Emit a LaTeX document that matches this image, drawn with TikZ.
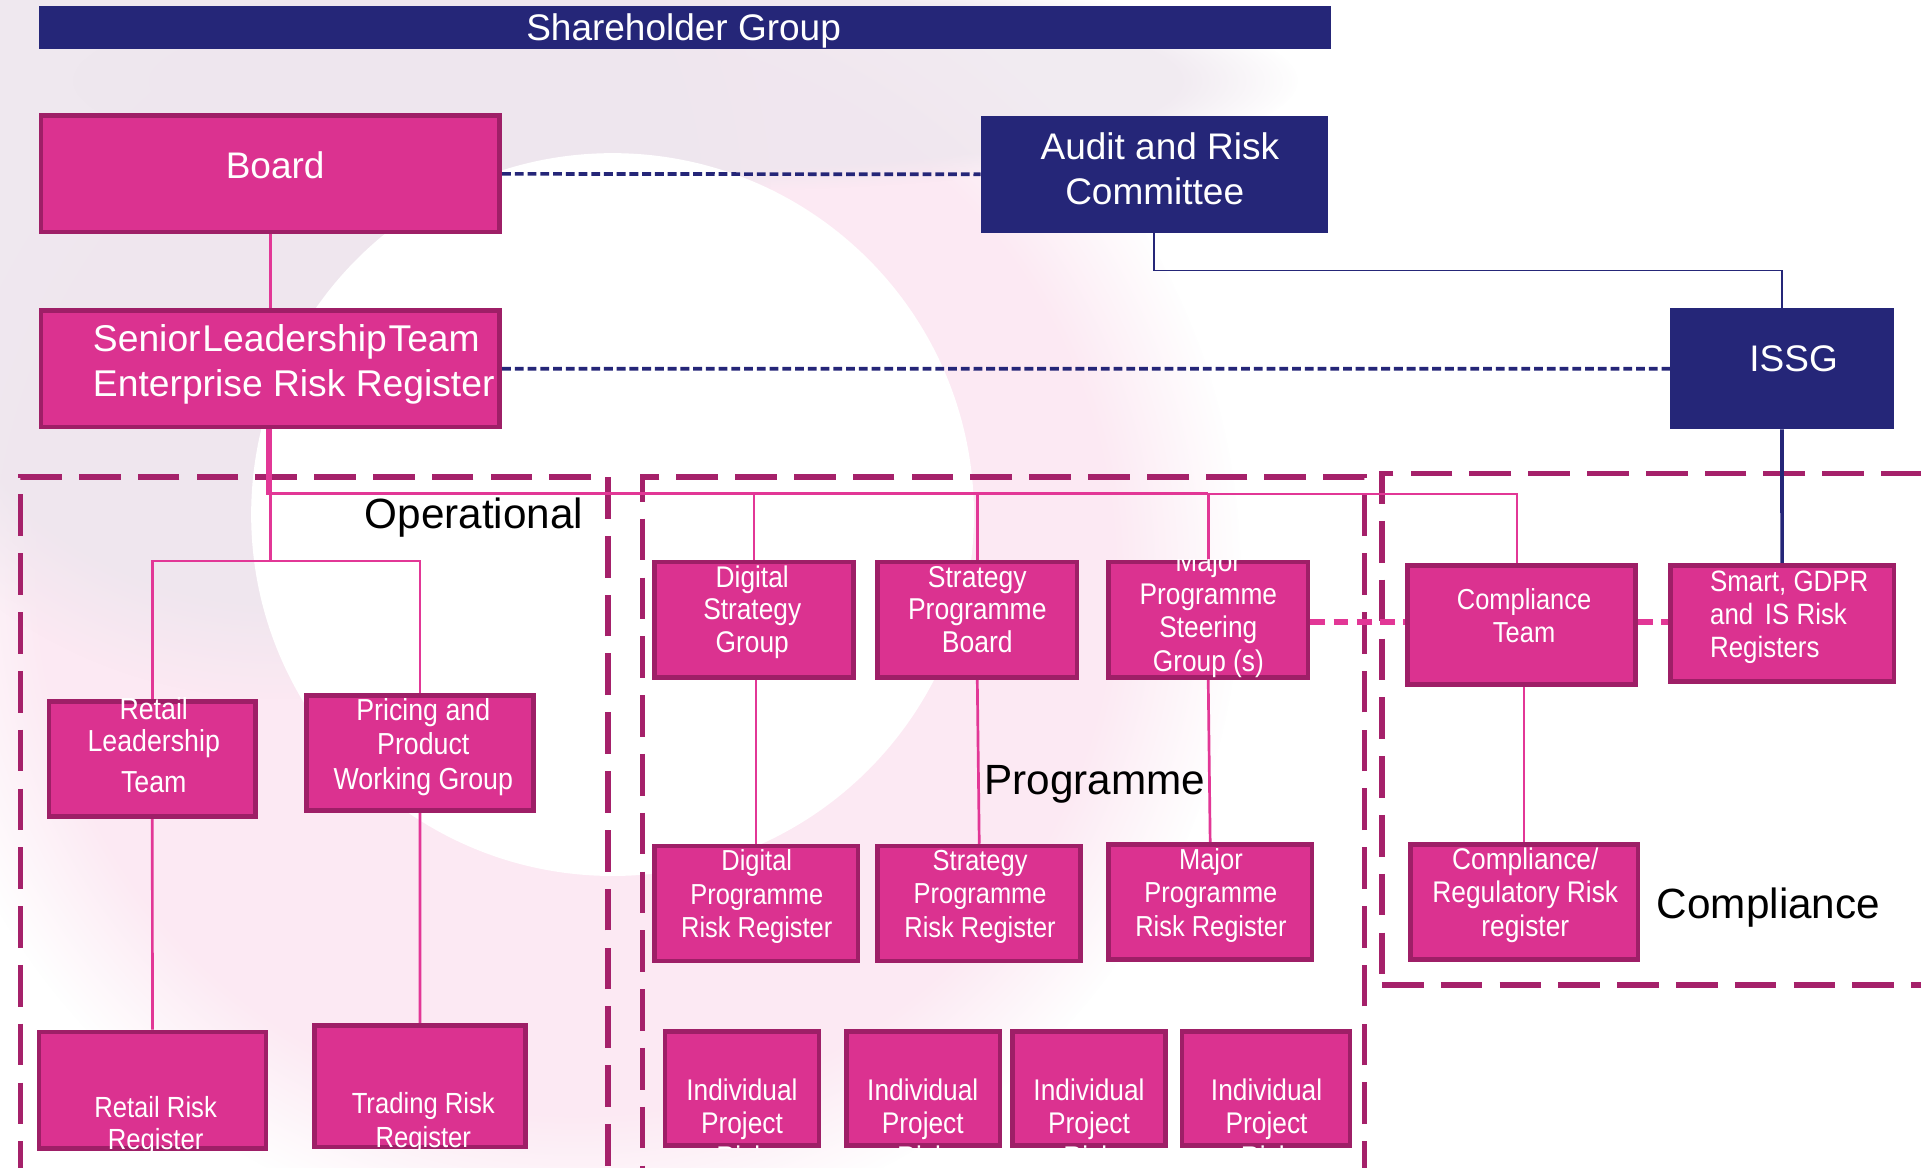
\documentclass[tikz,border=0pt]{standalone}
\usepackage{fontspec}
\setmainfont{Liberation Sans}
\newfontfamily\condsans[FakeStretch=0.88]{Liberation Sans}
\usetikzlibrary{fit,fadings}

\definecolor{navy}{RGB}{37,38,120}
\definecolor{boxfill}{RGB}{219,50,144}
\definecolor{boxedge}{RGB}{158,31,103}
\definecolor{grpedge}{RGB}{165,33,106}
\definecolor{linkpink}{RGB}{226,55,150}
\definecolor{ringpink}{RGB}{252,233,243}
\definecolor{ringgrey}{RGB}{238,230,238}

% box given by its outer corners (x1,y1) (x2,y2); the frame line lies inside
\newcommand{\orgbox}[6]{%
  \node[#1, fit={(#3+1.8,#4+1.8) (#5-1.8,#6-1.8)}] (#2) {};}

\tikzset{
  pinkbox/.style={rectangle, draw=boxedge, fill=boxfill, line width=1.9pt, inner sep=0pt},
  navybox/.style={rectangle, draw=navy, fill=navy, line width=1.8pt, inner sep=0pt},
  grpframe/.style={rectangle, draw=grpedge, line width=2.2pt, inner sep=0pt,
    dash pattern=on 17pt off 7pt},
  link/.style={draw=linkpink, line width=1.1pt},
  thinlink/.style={draw=linkpink, line width=0.7pt},
  navylink/.style={draw=navy, line width=0.7pt},
  navystem/.style={draw=navy, line width=1.5pt},
  navydash/.style={draw=navy, line width=1.5pt, dash pattern=on 3.6pt off 1.6pt},
  pinkdash/.style={draw=linkpink, line width=2.3pt, dash pattern=on 6pt off 3.5pt},
  bigtext/.style={text=white, inner sep=0pt, font=\fontsize{15.1}{18.3}\selectfont},
  medtext/.style 2 args={text=white, inner sep=0pt, align=center,
    font=\condsans\fontsize{#1}{#2}\selectfont},
  grplabel/.style={text=black, inner sep=0pt, anchor=base,
    font=\fontsize{17.25}{20}\selectfont},
  wash/.style={path fading=circle with fuzzy edge 20 percent},
}

\begin{document}
\begin{tikzpicture}[x=0.5pt,y=-0.5pt]
\clip (0,0) rectangle (1568,953);
\fill[white] (0,0) rectangle (1568,953);

% soft watercolour ring behind the chart
\fill[ringpink, wash] (470,470) circle (272pt);
\fill[ringgrey, wash, opacity=0.9] (230,170) circle (200pt);
\fill[ringgrey, wash, opacity=0.8] (560,66) ellipse (250pt and 45pt);
\fill[white] (500,420) circle (147.5pt);

% dashed group frames
\node[grpframe, fit={(16.8,389.2) (496.2,1000)}] (opgroup) {};
\node[grpframe, fit={(524.3,389.2) (1113.8,1000)}] (pggroup) {};
\node[grpframe, fit={(1128,386.6) (1620,804)}] (cpgroup) {};

% junctions of the reporting lines
\coordinate (j1) at (218.5,403);
\coordinate (j2) at (221,458);
\coordinate (jc) at (1238,403);
\coordinate (dy) at (0,507.5);

% boxes, first placed as frames so the lines can run between them
\orgbox{navybox}{sh}{31.8}{4.9}{1086.5}{39.7}
\orgbox{pinkbox}{board}{31.8}{92.5}{409.7}{191.3}
\orgbox{pinkbox}{slt}{31.8}{251.7}{409.7}{350.2}
\orgbox{navybox}{audit}{800.5}{94.7}{1083.8}{189.9}
\orgbox{navybox}{issg}{1363}{251.7}{1546}{350.4}
\orgbox{pinkbox}{rlt}{38.3}{571}{210.3}{668.2}
\orgbox{pinkbox}{ppwg}{248.2}{565.7}{437.3}{663.6}
\orgbox{pinkbox}{rrr}{29.9}{840.5}{219}{939}
\orgbox{pinkbox}{trr}{255}{835.3}{430.7}{938}
\orgbox{pinkbox}{dsg}{532.2}{457}{698.7}{555}
\orgbox{pinkbox}{spb}{714.6}{457}{880.8}{555}
\orgbox{pinkbox}{mpsg}{903}{457}{1069.4}{555}
\orgbox{pinkbox}{dprr}{532.2}{688.8}{702}{786.3}
\orgbox{pinkbox}{sprr}{714.6}{688.8}{884}{786.3}
\orgbox{pinkbox}{mprr}{903}{687.6}{1072.6}{785.2}
\orgbox{pinkbox}{ipa}{541}{840}{670.3}{937}
\orgbox{pinkbox}{ipb}{689}{840}{818}{937}
\orgbox{pinkbox}{ipc}{824.5}{840}{953.2}{937}
\orgbox{pinkbox}{ipd}{963}{840}{1103.6}{937}
\orgbox{pinkbox}{ct}{1147.2}{460}{1336.8}{560.5}
\orgbox{pinkbox}{smart}{1361.6}{460}{1547.7}{558}
\orgbox{pinkbox}{crr}{1149.5}{687.6}{1338.8}{785.2}

% reporting lines
\draw[link] (board.south) -- (slt.north);
\draw[link] (slt.south -| j1) -- (j1) -- (mpsg.north |- j1);
\draw[thinlink] (mpsg.north |- j1) -- (jc) -- (jc |- ct.north);
\draw[link] (dsg.north |- j1) -- (dsg.north);
\draw[link] (spb.north |- j1) -- (spb.north);
\draw[link] (mpsg.north |- j1) -- (mpsg.north);
\draw[link] (slt.south -| j2) -- (j2);
\draw[link] (rlt.north) |- (j2) -| (ppwg.north);
\draw[link] (rlt.south) -- (rrr.north);
\draw[link] (ppwg.south) -- (trr.north);
\draw[link] (dsg.south -| dprr.north) -- (dprr.north);
\draw[link] (spb.south) -- (sprr.north);
\draw[link] (mpsg.south) -- (mprr.north);
\draw[thinlink] (ct.south -| crr.north) -- (crr.north);
\draw[navylink] (audit.south) -- ++(0,31) -| (issg.north);
\draw[navystem] (issg.south) -- (smart.north);
\draw[navydash] (board.east) -- (audit.west);
\draw[navydash] (slt.east) -- (issg.west);
\draw[pinkdash] (mpsg.east |- dy) -- (ct.west |- dy);
\draw[pinkdash] (ct.east |- dy) -- (smart.west |- dy);

% boxes again on top of the line ends
\foreach \b in {board,slt,rlt,ppwg,rrr,trr,dsg,spb,mpsg,dprr,sprr,mprr,ipa,ipb,ipc,ipd,ct,smart,crr}
  \draw[boxedge, line width=1.9pt, fill=boxfill]
    ([shift={(0.95pt,-0.95pt)}]\b.north west) rectangle ([shift={(-0.95pt,0.95pt)}]\b.south east);
\foreach \b in {audit,issg}
  \fill[navy] (\b.north west) rectangle (\b.south east);

% group titles
\node[grplabel] (op-l) at (386.8,431.6) {Operational};
\node[grplabel] (pg-l) at (893.8,648.4) {Programme};
\node[grplabel] (cp-l) at (1443.5,749.3) {Compliance};

% texts of the large boxes
\node[bigtext, anchor=base] (sh-t) at (558,33.2) {Shareholder Group};
\node[bigtext, anchor=base] (board-t) at (224.6,145.5) {Board};
\node[bigtext, anchor=west, align=left, font=\fontsize{15.2}{18.4}\selectfont]
  (slt-t) at (75.5,297.7) {{\spaceskip=0.05em\relax Senior Leadership Team}\\Enterprise Risk Register};
\node[bigtext, align=center, font=\fontsize{15.1}{18.25}\selectfont]
  (audit-t) at (942.5,137.6) {\hspace*{4.25pt}Audit and Risk\\Committee};
\node[bigtext, anchor=base] (issg-t) at (1464,303.4) {ISSG};

% texts of the smaller boxes
\node[medtext={12.4}{13}] (rlt-t) at (125.5,608.4) {Retail\\Leadership\\[3.8pt]Team};
\node[medtext={12.4}{14.1}] (ppwg-t) at (345.5,609.6) {Pricing and\\Product\\Working Group};
\begin{scope}
  \clip (rrr.south west) rectangle (rrr.north east);
  \node[medtext={11.9}{13.1}] (rrr-t) at (127,918.8) {Retail Risk\\Register};
\end{scope}
\begin{scope}
  \clip (trr.south west) rectangle (trr.north east);
  \node[medtext={11.9}{13.5}] (trr-t) at (345.5,916.6) {Trading Risk\\Register};
\end{scope}
\node[medtext={12.2}{13.4}] (dsg-t) at (614,499.7) {Digital\\Strategy\\Group};
\node[medtext={12.3}{13.4}] (spb-t) at (797.7,497.5) {Strategy\\Programme\\Board};
\begin{scope}
  \clip (mpsg.south west) rectangle (mpsg.north east);
  \node[medtext={12.2}{13.55}] (mpsg-t) at (986.3,500.8) {Major\\Programme\\Steering\\Group (s)};
\end{scope}
\node[medtext={11.8}{13.7}] (dprr-t) at (617.7,732) {Digital\\Programme\\Risk Register};
\node[medtext={11.8}{13.7}] (sprr-t) at (800,732) {Strategy\\Programme\\Risk Register};
\node[medtext={11.8}{13.7}] (mprr-t) at (988.4,730.8) {Major\\Programme\\Risk Register};
\foreach \b/\x in {ipa/605.6, ipb/753.2, ipc/888.9, ipd/1033.8}{
  \begin{scope}
    \clip (\b.south west) rectangle (\b.north east);
    \node[medtext={12.2}{13.6}] (\b-t) at (\x,916.7) {Individual\\Project\\Risk};
  \end{scope}
}
\node[medtext={11.8}{13.45}] (ct-t) at (1244,502.3) {Compliance\\Team};
\node[medtext={12}{13.55}, align=left, anchor=west] (smart-t) at (1395.5,503.9)
  {Smart, GDPR\\and\hspace{0.15em} IS Risk\\Registers};
\node[medtext={12.2}{13.75}] (crr-t) at (1245,730.7) {Compliance/\\Regulatory Risk\\register};
\end{tikzpicture}
\end{document}
